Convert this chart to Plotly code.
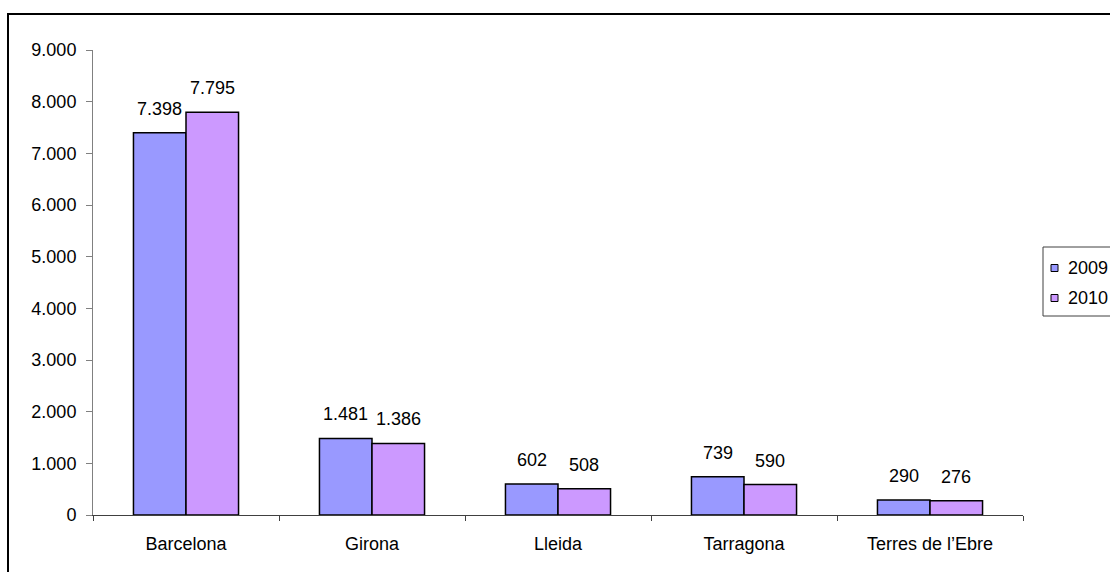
import plotly.graph_objects as go

categories = ["Barcelona", "Girona", "Lleida", "Tarragona", "Terres de l\u2019Ebre"]
values_2009 = [7398, 1481, 602, 739, 290]
values_2010 = [7795, 1386, 508, 590, 276]
series_names = ["2009", "2010"]
y_tickvals = [0, 1000, 2000, 3000, 4000, 5000, 6000, 7000, 8000, 9000]
y_ticktext = ["0", "1.000", "2.000", "3.000", "4.000", "5.000", "6.000", "7.000", "8.000", "9.000"]

colors = ["#9999FF", "#CC99FF"]
FONT = "Liberation Sans, Arial, sans-serif"
FS = 18

def fmt(v):
    return f"{v:,}".replace(",", ".")

fig = go.Figure()
for name, vals, col in zip(series_names, [values_2009, values_2010], colors):
    fig.add_trace(go.Bar(
        x=categories, y=vals, name=name,
        marker=dict(color=col, line=dict(color="black", width=1.5)),
    ))

W, H = 1110, 572
L, R, T, B = 93, 1023, 50, 515
def px(x):
    return (x - L) / (R - L)
def py(y):
    return (B - y) / (B - T)

annotations = []
for i, cat in enumerate(categories):
    for vals, off in [(values_2009, -0.141), (values_2010, 0.141)]:
        annotations.append(dict(
            x=i + off, y=vals[i], xref="x", yref="y",
            text=fmt(vals[i]), showarrow=False,
            yanchor="middle", yshift=24,
            font=dict(family=FONT, size=FS, color="black"),
        ))

shapes = [dict(
    type="rect", xref="paper", yref="paper",
    x0=px(8), y0=py(590), x1=px(1130), y1=py(14),
    line=dict(color="black", width=2), fillcolor="rgba(0,0,0,0)", layer="above",
)]
# manual legend
shapes.append(dict(
    type="rect", xref="paper", yref="paper",
    x0=px(1043), y0=py(316), x1=px(1130), y1=py(247),
    line=dict(color="#404040", width=1), fillcolor="white",
))
for name, col, cy in zip(series_names, colors, [268, 298]):
    shapes.append(dict(
        type="rect", xref="paper", yref="paper",
        x0=px(1051), y0=py(cy + 3.5), x1=px(1058), y1=py(cy - 3.5),
        line=dict(color="black", width=1), fillcolor=col,
    ))
    annotations.append(dict(
        x=px(1066), y=py(cy), xref="paper", yref="paper",
        xanchor="left", yanchor="middle", showarrow=False,
        text=name, font=dict(family=FONT, size=FS, color="black"),
    ))

fig.update_layout(
    width=W, height=H,
    margin=dict(l=L, r=W - R, t=T, b=H - B),
    paper_bgcolor="white", plot_bgcolor="white",
    barmode="group", bargap=0.435, bargroupgap=0,
    font=dict(family=FONT, size=FS, color="black"),
    showlegend=False,
    xaxis=dict(
        type="category", showgrid=False, showline=True, linecolor="#404040", linewidth=1,
        ticks="outside", tickson="boundaries", ticklen=5, tickcolor="#404040",
        tickfont=dict(family=FONT, size=FS), fixedrange=True,
        ticklabelstandoff=12,
    ),
    yaxis=dict(
        range=[0, 9000], tickvals=y_tickvals, ticktext=y_ticktext,
        showgrid=False, showline=True, linecolor="#808080", linewidth=1,
        ticks="outside", ticklen=6, tickcolor="#808080",
        tickfont=dict(family=FONT, size=FS), zeroline=False,
        ticklabelstandoff=6,
    ),
    annotations=annotations,
    shapes=shapes,
)

fig.write_html(
    "out.html",
    config={"displayModeBar": False},
    post_script="document.body.style.margin='0px';document.body.style.overflow='hidden';",
)
